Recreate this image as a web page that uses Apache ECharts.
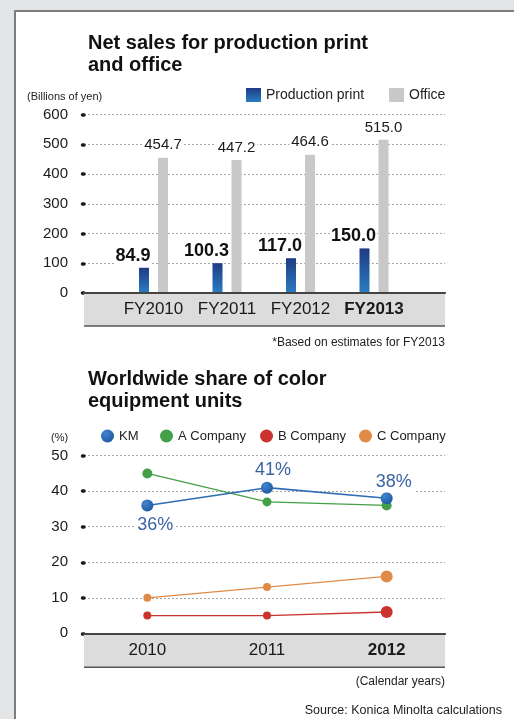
<!DOCTYPE html>
<html>
<head>
<meta charset="utf-8">
<script src="https://cdn.jsdelivr.net/npm/echarts@6/dist/echarts.min.js"></script>
<style>
  html, body { margin:0; padding:0; width:514px; height:719px; overflow:hidden; background:#e3e4e6; }
  #panel { position:absolute; left:14px; top:10px; width:520px; height:720px; background:#fff;
           border-left:2px solid #7c7c7c; border-top:2px solid #7c7c7c; box-sizing:border-box; }
  #chart { position:absolute; left:0; top:0; width:514px; height:719px; }
</style>
</head>
<body>
<div id="panel"></div>
<div id="chart"></div>
<script>
// ---- data ----
const fyCategories = ['FY2010', 'FY2011', 'FY2012', 'FY2013'];
const productionPrint = [84.9, 100.3, 117.0, 150.0];
const office = [454.7, 447.2, 464.6, 515.0];
const salesAxis = { min: 0, max: 600, step: 100 };

const years = ['2010', '2011', '2012'];
const km = [36, 41, 38];
const aCompany = [45, 37, 36];
const bCompany = [5, 5, 6];
const cCompany = [10, 13, 16];
const shareAxis = { min: 0, max: 50, step: 10 };

// ---- styles ----
const FONT = "'Liberation Sans', Arial, Helvetica, sans-serif";
const kmLabelPos = ['bottom', 'top', 'top'];
const kmLabelOffset = [[8, 2], [6, 0], [7, 2]];
const smallSym = [8, 8, 12];
const aSym = [10, 9, 10];

// layout
const G1 = { left: 84, top: 114.6, width: 361, height: 178.4 };
const G1b = { left: 116.75, width: 294 };
const G2 = { left: 84, top: 455.7, width: 361, height: 177.6 };
const G2b = { left: 87.5, width: 359 };

const chart = echarts.init(document.getElementById('chart'), null, { renderer: 'canvas' });

function boldLast(arr) {
  return arr.map((c, i) => i === arr.length - 1 ? { value: c, textStyle: { fontWeight: 'bold' } } : c);
}
const dotTick = { show: true, length: 1.5, lineStyle: { color: '#1a1a1a', width: 3.5, cap: 'round' } };
const dotted = { show: true, lineStyle: { color: '#a8a8a8', width: 1, type: [2, 2] } };
function lineAxis(gridIndex, position, width, color) {
  return { gridIndex, type: 'value', min: 0, max: 1, position, show: true,
    axisLine: { show: true, lineStyle: { color, width } }, axisTick: { show: false },
    axisLabel: { show: false }, splitLine: { show: false }, z: 6 };
}
function note(text, pos, top, size) {
  return Object.assign({ text, top, padding: 0,
    textStyle: { fontFamily: FONT, fontSize: size, fontWeight: 'normal', lineHeight: 14, color: '#222' } }, pos);
}
const kmColor = new echarts.graphic.RadialGradient(0.35, 0.3, 0.8, [
  { offset: 0, color: '#3f86cf' }, { offset: 1, color: '#1f55a0' }]);

const option = {
  animation: false,
  textStyle: { fontFamily: FONT },
  title: [
    { text: 'Net sales for production print\nand office', left: 88, top: 32, padding: 0,
      textStyle: { fontFamily: FONT, fontSize: 20, fontWeight: 'bold', lineHeight: 22, color: '#111' } },
    note('(Billions of yen)', { left: 27 }, 90, 11),
    note('*Based on estimates for FY2013', { right: 69 }, 336, 12),
    { text: 'Worldwide share of color\nequipment units', left: 88, top: 368.5, padding: 0,
      textStyle: { fontFamily: FONT, fontSize: 20, fontWeight: 'bold', lineHeight: 22, color: '#111' } },
    note('(%)', { left: 51 }, 431, 11),
    note('(Calendar years)', { right: 69 }, 674.7, 12),
    note('Source: Konica Minolta calculations', { right: 12 }, 703.7, 12.5)
  ],
  legend: [
    { data: ['Production print', 'Office'], left: 246, top: 88, icon: 'rect', itemWidth: 15, itemHeight: 14,
      itemGap: 25, itemTextGap: 4, padding: 0, textStyle: { fontSize: 14, color: '#222', fontFamily: FONT } },
    { data: ['KM'], left: 101, top: 429.5, icon: 'circle', itemWidth: 13, itemHeight: 13, itemTextGap: 6, padding: 0,
      textStyle: { fontSize: 13, color: '#222', fontFamily: FONT } },
    { data: ['A Company'], left: 160, top: 429.5, icon: 'circle', itemWidth: 13, itemHeight: 13, itemTextGap: 6, padding: 0,
      textStyle: { fontSize: 13, color: '#222', fontFamily: FONT } },
    { data: ['B Company'], left: 260, top: 429.5, icon: 'circle', itemWidth: 13, itemHeight: 13, itemTextGap: 6, padding: 0,
      textStyle: { fontSize: 13, color: '#222', fontFamily: FONT } },
    { data: ['C Company'], left: 359, top: 429.5, icon: 'circle', itemWidth: 13, itemHeight: 13, itemTextGap: 6, padding: 0,
      textStyle: { fontSize: 13, color: '#222', fontFamily: FONT } }
  ],
  grid: [
    { left: G1.left, top: G1.top, width: G1.width, height: G1.height },
    { left: G1b.left, top: G1.top, width: G1b.width, height: G1.height },
    { left: G2.left, top: G2.top, width: G2.width, height: G2.height },
    { left: G2b.left, top: G2.top, width: G2b.width, height: G2.height }
  ],
  graphic: [
    { type: 'rect', z: 1, shape: { x: G1.left, y: G1.top + G1.height + 1, width: G1.width, height: 32 }, style: { fill: '#dcdcdc' } },
    { type: 'line', z: 1, shape: { x1: G1.left, y1: G1.top + G1.height + 33, x2: G1.left + G1.width, y2: G1.top + G1.height + 33 }, style: { stroke: '#555', lineWidth: 1.5 } },
    { type: 'rect', z: 1, shape: { x: G2.left, y: G2.top + G2.height + 1, width: G2.width, height: 33 }, style: { fill: '#dcdcdc' } },
    { type: 'line', z: 1, shape: { x1: G2.left, y1: G2.top + G2.height + 34, x2: G2.left + G2.width, y2: G2.top + G2.height + 34 }, style: { stroke: '#555', lineWidth: 1.5 } }
  ],
  xAxis: [
    lineAxis(0, 'top', 1.5, '#555'),
    lineAxis(0, 'bottom', 2, '#444'),
    { gridIndex: 1, type: 'category', data: boldLast(fyCategories), z: 6,
      axisLine: { show: false }, axisTick: { show: false },
      axisLabel: { interval: 0, fontSize: 17, color: '#1a1a1a', margin: 7.5, fontFamily: FONT } },
    lineAxis(2, 'top', 1.5, '#555'),
    lineAxis(2, 'bottom', 2, '#444'),
    { gridIndex: 3, type: 'category', data: boldLast(years), z: 6,
      axisLine: { show: false }, axisTick: { show: false },
      axisLabel: { interval: 0, fontSize: 17, color: '#1a1a1a', margin: 9, fontFamily: FONT } }
  ],
  yAxis: [
    { gridIndex: 0, type: 'value', min: salesAxis.min, max: salesAxis.max, interval: salesAxis.step,
      axisLine: { show: false }, axisTick: dotTick, splitLine: dotted,
      axisLabel: { fontSize: 15, color: '#1a1a1a', margin: 16, fontFamily: FONT } },
    { gridIndex: 1, type: 'value', min: salesAxis.min, max: salesAxis.max, show: false, splitLine: { show: false } },
    { gridIndex: 2, type: 'value', min: shareAxis.min, max: shareAxis.max, interval: shareAxis.step,
      axisLine: { show: false }, axisTick: dotTick, splitLine: dotted,
      axisLabel: { fontSize: 15, color: '#1a1a1a', margin: 16, fontFamily: FONT } },
    { gridIndex: 3, type: 'value', min: shareAxis.min, max: shareAxis.max, show: false, splitLine: { show: false } }
  ],
  series: [
    { name: 'Production print', type: 'bar', xAxisIndex: 2, yAxisIndex: 1, data: productionPrint,
      barWidth: 10, barGap: '90%', z: 3,
      itemStyle: { color: new echarts.graphic.LinearGradient(0, 0, 0, 1, [
        { offset: 0, color: '#1f3b84' }, { offset: 1, color: '#2a7dc2' }]) },
      label: { show: true, position: 'top', distance: 3, offset: [-11, 0], fontSize: 18, fontWeight: 'bold',
        color: '#111', fontFamily: FONT, backgroundColor: '#fff', padding: [0, 1],
        formatter: p => p.value.toFixed(1) } },
    { name: 'Office', type: 'bar', xAxisIndex: 2, yAxisIndex: 1, data: office,
      barWidth: 10, barGap: '90%', z: 3,
      itemStyle: { color: '#c8c8c8' },
      label: { show: true, position: 'top', distance: 4, fontSize: 15, color: '#1a1a1a', fontFamily: FONT,
        backgroundColor: '#fff', padding: [1, 2], formatter: p => p.value.toFixed(1) } },
    { name: 'B Company', type: 'line', xAxisIndex: 5, yAxisIndex: 3, data: bCompany, z: 3,
      symbol: 'circle', symbolSize: (v, p) => smallSym[p.dataIndex],
      itemStyle: { color: '#c9352e' }, lineStyle: { color: '#c9352e', width: 1.3 } },
    { name: 'C Company', type: 'line', xAxisIndex: 5, yAxisIndex: 3, data: cCompany, z: 3,
      symbol: 'circle', symbolSize: (v, p) => smallSym[p.dataIndex],
      itemStyle: { color: '#e08b45' }, lineStyle: { color: '#e08b45', width: 1.3 } },
    { name: 'A Company', type: 'line', xAxisIndex: 5, yAxisIndex: 3, data: aCompany, z: 4,
      symbol: 'circle', symbolSize: (v, p) => aSym[p.dataIndex],
      itemStyle: { color: '#43a047' }, lineStyle: { color: '#43a047', width: 1.3 } },
    { name: 'KM', type: 'line', xAxisIndex: 5, yAxisIndex: 3, z: 5,
      data: km.map((v, i) => ({ value: v, label: { position: kmLabelPos[i], offset: kmLabelOffset[i] } })),
      symbol: 'circle', symbolSize: 12,
      itemStyle: { color: kmColor }, lineStyle: { color: '#2f6cb3', width: 1.6 },
      label: { show: true, distance: 2, fontSize: 18, color: '#3a63a6', fontFamily: FONT,
        backgroundColor: '#fff', padding: [1, 2], formatter: p => p.value + '%' } }
  ]
};
chart.setOption(option);
</script>
</body>
</html>
